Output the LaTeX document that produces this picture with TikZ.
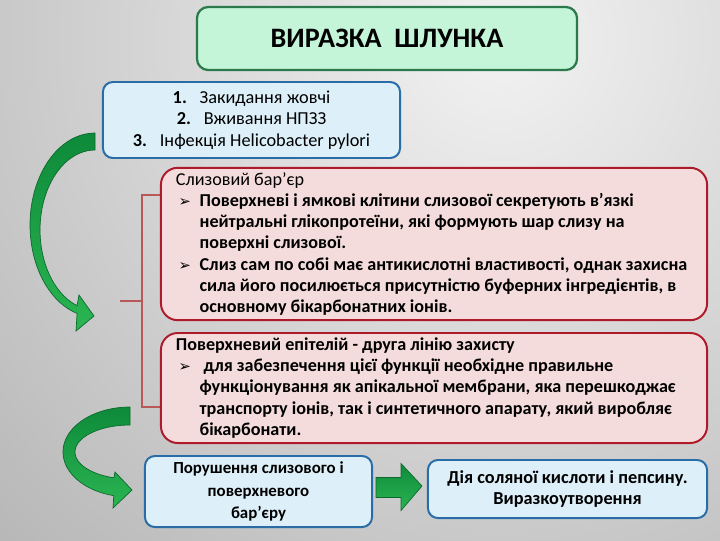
\documentclass[tikz,border=0pt]{standalone}
\usepackage{fontspec}
\setmainfont{Carlito}
\newfontfamily\symfont{DejaVu Sans}
\usetikzlibrary{arrows.meta,calc,positioning}
\definecolor{bg-light}{HTML}{F2F2F2}
\definecolor{bg-dark}{HTML}{7E7E7E}
\definecolor{title-fill}{HTML}{C4F5D8}
\definecolor{title-edge}{HTML}{2C7A4C}
\definecolor{blue-fill}{HTML}{DDF0F9}
\definecolor{blue-edge}{HTML}{2A6CA6}
\definecolor{red-fill}{HTML}{F5DCDC}
\definecolor{red-edge}{HTML}{AE1A2A}
\definecolor{brace-col}{HTML}{B85858}
\definecolor{arrow-dark}{HTML}{0E8A3A}
\definecolor{arrow-light}{HTML}{2BB552}
\definecolor{arrow-edge}{HTML}{0B6A2D}
\newcommand{\bul}{\hspace*{5.5pt}\makebox[14.9pt][l]{\symfont\fontsize{10.5}{10}\selectfont ➢}}
\newcommand{\cont}{\hspace*{20.4pt}}

\begin{document}
\begin{tikzpicture}[x=0.025cm,y=-0.025cm,
  titlebox/.style={draw=title-edge,fill=title-fill,line width=1.6pt,rounded corners=8pt,
    minimum width=9.5cm,minimum height=1.575cm,font=\fontsize{20}{22}\selectfont\bfseries},
  bluebox/.style={draw=blue-edge,fill=blue-fill,line width=1.4pt,rounded corners=7pt,
    align=center,font=\fontsize{13}{15.4}\selectfont},
  redbox/.style={draw=red-edge,fill=red-fill,line width=1.4pt,rounded corners=12pt,
    minimum width=13.65cm,text width=13.15cm,inner xsep=0.25cm,align=flush left,
    font=\fontsize{12.9}{15.1}\selectfont\bfseries},
  greenarrow/.style={draw=arrow-edge,line width=0.5pt,top color=arrow-dark,bottom color=arrow-light},
  bracket/.style={draw=brace-col,line width=2.1pt}]

  % фон
  \begin{scope}
    \clip (0,0) rectangle (720,540);
    \shade[inner color=bg-light,outer color=bg-dark] (500,40) circle (1400);
  \end{scope}
  \useasboundingbox (0,0) rectangle (720,540);

  % заголовок і причини
  \node[titlebox] (title) at (387,38.5) {ВИРАЗКА\ \ ШЛУНКА};
  \node[bluebox,minimum width=7.425cm,minimum height=1.9cm] (causes) at (251.5,120)
    {\textbf{1.}\hspace{0.7em}Закидання жовчі\\
     \textbf{2.}\hspace{0.7em}Вживання НПЗЗ\\
     \textbf{3.}\hspace{0.7em}Інфекція Helicobacter pylori};

  % дужка між бар'єрами
  \coordinate (brtop) at (161,195);
  \coordinate (brbot) at (161,407);
  \draw[bracket] (brtop) -- ++(-19,0) |- (brbot);
  \draw[bracket] ($(brtop)!0.5!(brbot)+(-19,0)$) -- ++(-22,0);

  % бар'єри
  \node[redbox,minimum height=3.7cm] (mucus) at (434,244)
    {\hspace*{3.5pt}\textmd{Слизовий бар'єр}\\
     \bul Поверхневі і ямкові клітини слизової секретують в'язкі\\
     \cont нейтральні глікопротеїни, які формують шар слизу на\\
     \cont поверхні слизової.\\
     \bul Слиз сам по собі має антикислотні властивості, однак захисна\\
     \cont сила його посилюється присутністю буферних інгредієнтів, в\\
     \cont основному бікарбонатних іонів.};
  \node[redbox,minimum height=2.75cm] (epith) at (434,388)
    {\hspace*{3.5pt}Поверхневий епітелій - друга лінію захисту\\
     \bul\ для забезпечення цієї функції необхідне правильне\\
     \cont функціонування як апікальної мембрани, яка перешкоджає\\
     \cont транспорту іонів, так і синтетичного апарату, який виробляє\\
     \cont бікарбонати.};

  % наслідки
  \node[bluebox,minimum width=5.675cm,minimum height=1.775cm,font=\fontsize{12}{16}\selectfont\bfseries]
    (breach) at (258.5,491.5) {Порушення слизового і\\поверхневого\\бар’єру};
  \node[bluebox,minimum width=6.975cm,minimum height=1.45cm,font=\fontsize{13}{15}\selectfont\bfseries]
    (ulcer) at (567.5,489) {Дія соляної кислоти і пепсину.\\Виразкоутворення};

  % зелені стрілки
  \path[greenarrow] plot[domain=90:254,samples=40] ({95+65*cos(\x)},{225-92*sin(\x)})
    -- (76,331) -- (94,316) -- (79,295)
    -- plot[domain=251:90,samples=40] ({95+55*cos(\x)},{230-80*sin(\x)}) -- cycle;
  \path[greenarrow] plot[domain=90:256,samples=40] ({130+67*cos(\x)},{452-45*sin(\x)})
    -- (113,508) -- (132,490) -- (115,472)
    -- plot[domain=253:90,samples=40] ({130+55*cos(\x)},{452-27*sin(\x)}) -- cycle;
  \path[greenarrow] ($(breach.east)+(3,-14)$) -- ++(25,0) -- ++(0,-14)
    -- ($(ulcer.west)+(-5,-3)$) -- ($(breach.east)+(28,19)$) -- ++(0,-13) -- ++(-25,0) -- cycle;
\end{tikzpicture}
\end{document}
